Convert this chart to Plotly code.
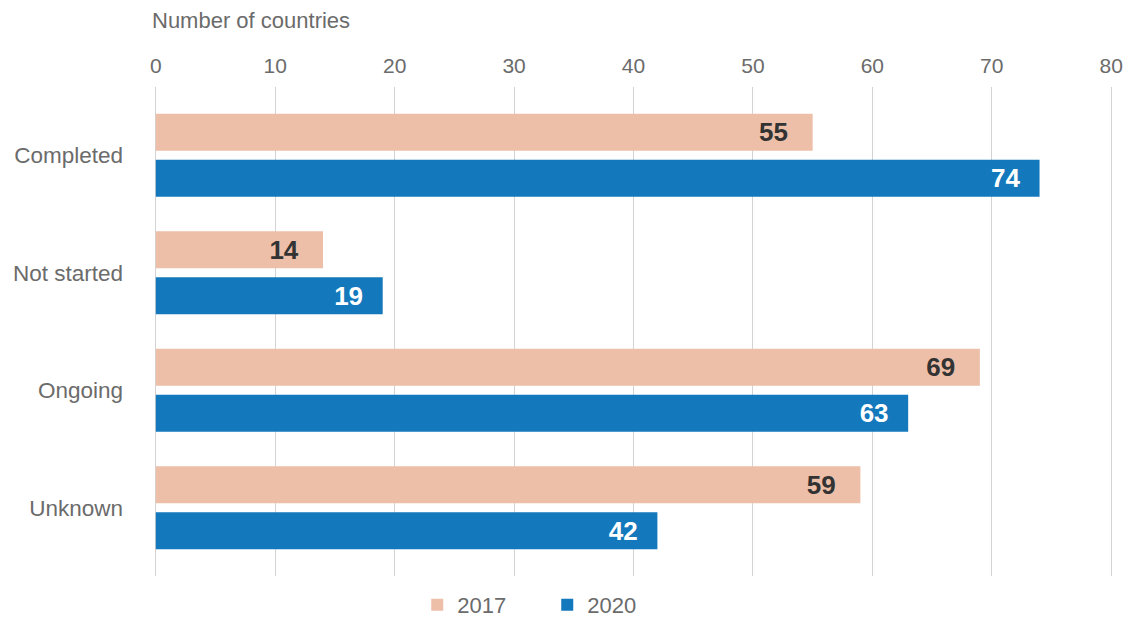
import plotly.graph_objects as go

categories = ["Completed", "Not started", "Ongoing", "Unknown"]
values_2017 = [55, 14, 69, 59]
values_2020 = [74, 19, 63, 42]
x_ticks = [0, 10, 20, 30, 40, 50, 60, 70, 80]

GRAY = "#6b6b6b"
FONT = "Liberation Sans, Arial, sans-serif"
C2017 = "#EDBFA8"
C2020 = "#1378BC"

fig = go.Figure()
fig.add_trace(go.Bar(
    name="2017", y=categories, x=values_2017, orientation="h",
    marker=dict(color=C2017, line=dict(width=0)),
    texttemplate="%{x}\u00a0\u00a0\u00a0", textposition="inside", insidetextanchor="end",
    textfont=dict(family=FONT, size=26, color="#333333", weight="bold"),
    hoverinfo="skip",
))
fig.add_trace(go.Bar(
    name="2020", y=categories, x=values_2020, orientation="h",
    marker=dict(color=C2020, line=dict(width=0)),
    texttemplate="%{x}\u00a0\u00a0\u200a", textposition="inside", insidetextanchor="end",
    textfont=dict(family=FONT, size=26, color="#ffffff", weight="bold"),
    hoverinfo="skip",
))

fig.update_layout(
    width=1128, height=609,
    margin=dict(l=146, r=23, t=79, b=41, autoexpand=False),
    paper_bgcolor="white", plot_bgcolor="white",
    barmode="group", bargap=0.217, bargroupgap=0.196,
    font=dict(family=FONT, color=GRAY, size=21),
    uniformtext=dict(minsize=26, mode="show"),
    showlegend=True,
    legend=dict(orientation="h", x=0.2745, xanchor="left", y=-0.0593, yanchor="middle",
                font=dict(size=22, color=GRAY), entrywidth=85, traceorder="normal",
                itemclick=False),
    xaxis=dict(side="top", range=[-0.15, 80.15], tickvals=x_ticks, showgrid=True,
               gridcolor="#d3d3d3", gridwidth=1, zeroline=False, showline=False,
               ticks="", tickfont=dict(size=21, color=GRAY), ticklabelstandoff=9,
               fixedrange=True),
    yaxis=dict(categoryorder="array", categoryarray=categories,
               range=[3.581, -0.581], showgrid=False, zeroline=False, showline=False,
               ticks="", tickfont=dict(size=22.5, color=GRAY), ticklabelstandoff=30,
               fixedrange=True),
    annotations=[dict(text="Number of countries", xref="paper", yref="paper",
                      x=-0.0042, y=1.137, xanchor="left", yanchor="middle",
                      showarrow=False, font=dict(size=22, color=GRAY))],
)

fig.write_html("out.html")
